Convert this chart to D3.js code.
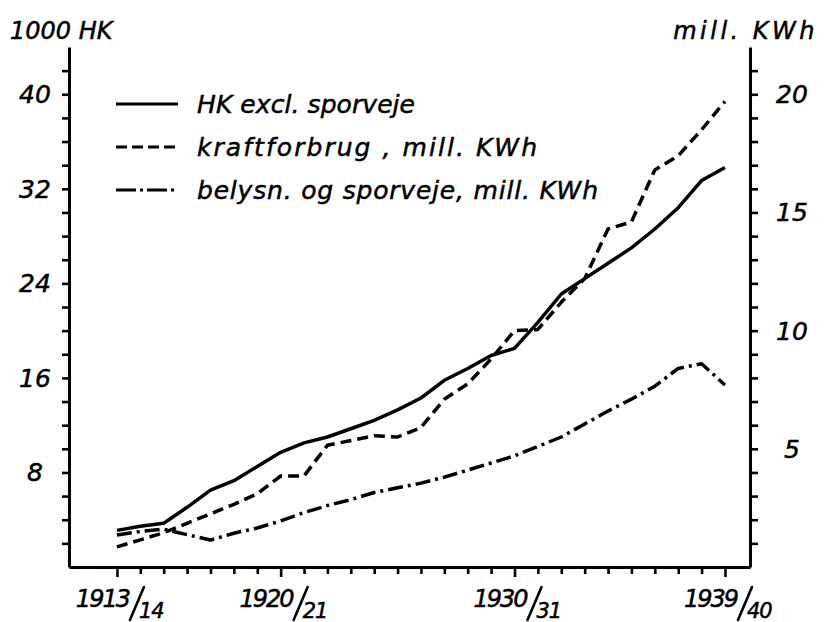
<!DOCTYPE html>
<html>
<head>
<meta charset="utf-8">
<script src="https://cdn.jsdelivr.net/npm/d3@7/dist/d3.min.js"></script>
<style>
  body { margin: 0; background: #fff; }
  text { font-family: "DejaVu Sans", sans-serif; font-style: italic; fill: #000;
         stroke: #000; stroke-width: 0.5px; }
</style>
</head>
<body>
<svg id="chart" width="824" height="622"></svg>
<script>
// Operating years 1913/14 ... 1939/40 (first year of each season)
const years = [1913, 1914, 1915, 1916, 1917, 1918, 1919, 1920, 1921, 1922, 1923, 1924, 1925,
               1926, 1927, 1928, 1929, 1930, 1931, 1932, 1933, 1934, 1935, 1936, 1937, 1938, 1939];

// 1000 HK, excluding tramways (left axis)
const hkExclSporveje = [3.1, 3.45, 3.7, 5.05, 6.5, 7.3, 8.5, 9.7, 10.5, 11.0, 11.7, 12.4, 13.3,
                        14.3, 15.8, 16.8, 17.9, 18.5, 20.7, 23.1, 24.4, 25.7, 27.0, 28.6, 30.4, 32.7, 33.8];

// Power consumption, mill. KWh (right axis)
const kraftforbrug = [0.85, 1.15, 1.45, 1.85, 2.25, 2.65, 3.1, 3.85, 3.85, 5.15, 5.35, 5.55, 5.5,
                      5.9, 7.1, 7.75, 8.8, 10.0, 10.05, 11.2, 12.2, 14.3, 14.6, 16.8, 17.4, 18.5, 19.7];

// Lighting and tramways, mill. KWh (right axis)
const belysnSporveje = [1.35, 1.5, 1.6, 1.37, 1.14, 1.43, 1.65, 1.95, 2.3, 2.6, 2.85, 3.15, 3.35,
                        3.55, 3.8, 4.1, 4.4, 4.7, 5.1, 5.5, 6.05, 6.6, 7.1, 7.65, 8.4, 8.6, 7.7];

const leftTickLabels = [8, 16, 24, 32, 40];
const rightTickLabels = [5, 10, 15, 20];
const yearLabels = [[1913, "1913", "14"], [1920, "1920", "21"], [1930, "1930", "31"], [1939, "1939", "40"]];
const majorYears = [1913, 1920, 1930, 1939];
const seriesNames = ["HK  excl. sporveje", "kraftforbrug , mill. KWh", "belysn. og sporveje, mill. KWh"];

const svg = d3.select("#chart");

const x = d3.scaleLinear().domain([1910.95, 1940.07]).range([69, 750]);
const yL = d3.scaleLinear().domain([0, 44]).range([567, 47]);
const yR = d3.scaleLinear().domain([0, 22]).range([567, 47]);

const axisStroke = 3;

// Left axis: minor ticks every 2 (1000 HK)
const gL = svg.append("g").attr("transform", `translate(${x.range()[0]},0)`)
  .call(d3.axisLeft(yL).tickValues(d3.range(2, 43, 2)).tickSize(7).tickSizeOuter(0).tickFormat(""));
// Right axis: ticks every 1 mill. KWh
const gR = svg.append("g").attr("transform", `translate(${x.range()[1]},0)`)
  .call(d3.axisRight(yR).tickValues(d3.range(1, 22, 1)).tickSize(8).tickSizeOuter(0).tickFormat(""));
// Bottom axis: one tick per year, longer at labelled years
const gB = svg.append("g").attr("transform", `translate(0,${yL(0)})`)
  .call(d3.axisBottom(x).tickValues(years).tickSize(7).tickSizeOuter(0).tickFormat(""));
gB.selectAll(".tick line").attr("y2", d => majorYears.includes(d) ? 10 : 7);

[gL, gR, gB].forEach(g => {
  g.select(".domain").attr("stroke", "#000").attr("stroke-width", axisStroke);
  g.selectAll(".tick line").attr("stroke", "#000").attr("stroke-width", 2.6);
});

// Tick labels
svg.append("g").selectAll("text").data(leftTickLabels).join("text")
  .attr("x", 35).attr("y", d => yL(d) + 9)
  .attr("text-anchor", "middle").attr("font-size", 25)
  .text(d => d);
svg.append("g").selectAll("text").data(rightTickLabels).join("text")
  .attr("x", 792).attr("y", d => yR(d) + 9)
  .attr("text-anchor", "middle").attr("font-size", 25)
  .text(d => d);

// Year labels written as 1913/14: year, slanted stroke, following year lowered
const yg = svg.append("g").selectAll("g").data(yearLabels).join("g")
  .attr("transform", d => `translate(${x(d[0]) + 12},0)`);
yg.append("text").attr("x", 0).attr("y", 607).attr("text-anchor", "end")
  .attr("font-size", 24).attr("letter-spacing", -2).text(d => d[1]);
yg.append("line").attr("x1", 1).attr("y1", 620).attr("x2", 15).attr("y2", 587)
  .attr("stroke", "#000").attr("stroke-width", 2.6).attr("stroke-linecap", "round");
yg.append("text").attr("x", 10).attr("y", 618)
  .attr("font-size", 21).attr("letter-spacing", -1).text(d => d[2]);

// Axis unit titles
svg.append("text").attr("x", 10).attr("y", 39).attr("font-size", 24).text("1000 HK");
svg.append("text").attr("x", 818).attr("y", 39).attr("font-size", 24)
  .attr("text-anchor", "end").attr("letter-spacing", 3.5).text("mill.  KWh");

// Series
const styles = [
  { dash: null },
  { dash: "11,6" },
  { dash: "15,5,3,5" }
];
const series = [
  { values: hkExclSporveje, y: yL },
  { values: kraftforbrug, y: yR },
  { values: belysnSporveje, y: yR }
];

series.forEach((s, i) => {
  const line = d3.line().x((d, j) => x(years[j])).y(d => s.y(d));
  svg.append("path").datum(s.values)
    .attr("d", line)
    .attr("fill", "none").attr("stroke", "#000").attr("stroke-width", 3.5)
    .attr("stroke-linejoin", "round")
    .attr("stroke-dasharray", styles[i].dash);
});

// Legend
const legendDash = [null, "11,5", "20,4,3,4"];
const legendWidths = [218, 340, 401];
const lg = svg.append("g");
seriesNames.forEach((name, i) => {
  const yy = 104 + i * 43;
  lg.append("line").attr("x1", 116).attr("x2", 178).attr("y1", yy).attr("y2", yy)
    .attr("stroke", "#000").attr("stroke-width", 3.2).attr("stroke-dasharray", legendDash[i]);
  lg.append("text").attr("x", 197).attr("y", yy + 9).attr("font-size", 25)
    .attr("textLength", legendWidths[i]).attr("lengthAdjust", "spacing").text(name);
});
</script>
</body>
</html>
